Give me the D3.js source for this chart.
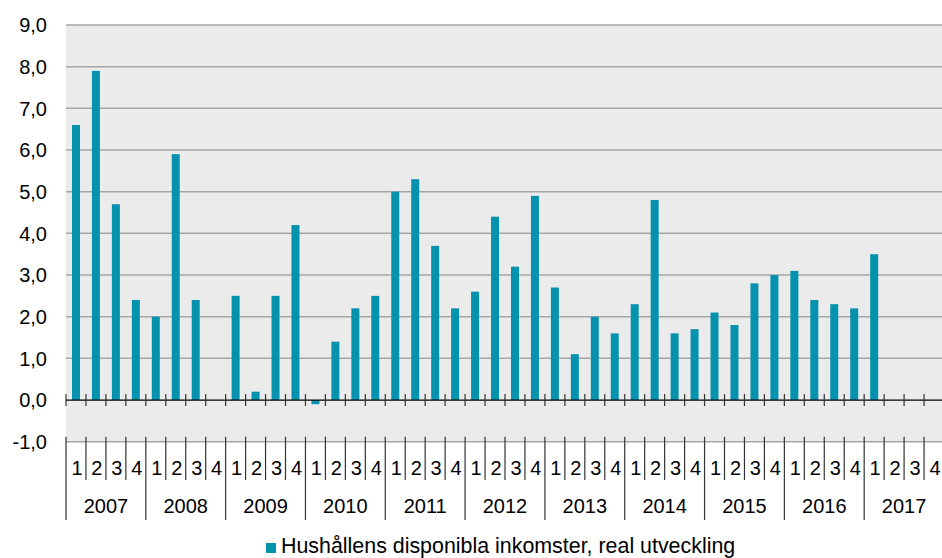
<!DOCTYPE html>
<html>
<head>
<meta charset="utf-8">
<script src="https://cdn.jsdelivr.net/npm/d3@7"></script>
<style>
  body { margin: 0; background: #fff; }
  svg { display: block; font-family: Arial, "Liberation Sans", sans-serif; }
</style>
</head>
<body>
<svg id="chart" width="942" height="558"></svg>
<script>
// Quarterly data, 2007Q1 - 2017Q4
var years = ["2007", "2008", "2009", "2010", "2011", "2012", "2013", "2014", "2015", "2016", "2017"];
var quarters = ["1", "2", "3", "4"];
var values = [
  6.6, 7.9, 4.7, 2.4,
  2.0, 5.9, 2.4, 0.0,
  2.5, 0.2, 2.5, 4.2,
  -0.1, 1.4, 2.2, 2.5,
  5.0, 5.3, 3.7, 2.2,
  2.6, 4.4, 3.2, 4.9,
  2.7, 1.1, 2.0, 1.6,
  2.3, 4.8, 1.6, 1.7,
  2.1, 1.8, 2.8, 3.0,
  3.1, 2.4, 2.3, 2.2,
  3.5, null, null, null
];
var yTicks = [-1, 0, 1, 2, 3, 4, 5, 6, 7, 8, 9];
var seriesName = "Hushållens disponibla inkomster, real utveckling";

var svg = d3.select("#chart");

// Plot area (note: "top" is reserved on window, so use plot* names)
var plotLeft = 66, plotRight = 944, plotTop = 25, plotBottom = 441.7;

// Build category keys
var cats = [];
years.forEach(function(yr) {
  quarters.forEach(function(q) { cats.push(yr + "-" + q); });
});
var data = cats.map(function(c, i) { return { key: c, q: c.split("-")[1], value: values[i] }; });

var x = d3.scaleBand().domain(cats).range([plotLeft, plotRight]).paddingInner(0).paddingOuter(0);
var xYear = d3.scaleBand().domain(years).range([plotLeft, plotRight]);
var y = d3.scaleLinear().domain([-1, 9]).range([plotBottom, plotTop]);

// Background
svg.append("rect")
  .attr("x", plotLeft).attr("y", plotTop)
  .attr("width", plotRight - plotLeft).attr("height", plotBottom - plotTop)
  .attr("fill", "#ebebeb");

// Gridlines
svg.append("g")
  .selectAll("line")
  .data(yTicks.filter(function(d) { return d !== 0; }))
  .enter()
  .append("line")
  .attr("x1", plotLeft).attr("x2", plotRight)
  .attr("y1", function(d) { return y(d); })
  .attr("y2", function(d) { return y(d); })
  .attr("stroke", "#a6a6a6")
  .attr("stroke-width", 1.5);

// Y axis labels
svg.append("g")
  .selectAll("text")
  .data(yTicks)
  .enter()
  .append("text")
  .attr("x", 47)
  .attr("y", function(d) { return y(d); })
  .attr("dy", "0.36em")
  .attr("text-anchor", "end")
  .attr("font-size", "20px")
  .attr("fill", "#000")
  .text(function(d) { return d3.format(".1f")(d).replace(".", ",").replace("−", "-"); });

// Bars
var barW = 8;
svg.append("g")
  .selectAll("rect")
  .data(data.filter(function(d) { return d.value !== null && d.value !== 0; }))
  .enter()
  .append("rect")
  .attr("x", function(d) { return x(d.key) + x.bandwidth() / 2 - barW / 2; })
  .attr("y", function(d) { return y(Math.max(0, d.value)); })
  .attr("width", barW)
  .attr("height", function(d) { return Math.abs(y(d.value) - y(0)); })
  .attr("fill", "#0492ae");

// Zero axis line with ticks
svg.append("line")
  .attr("x1", plotLeft).attr("x2", plotRight)
  .attr("y1", y(0)).attr("y2", y(0))
  .attr("stroke", "#000").attr("stroke-width", 1.3);

svg.append("g")
  .selectAll("line")
  .data(cats)
  .enter()
  .append("line")
  .attr("x1", function(d) { return x(d); })
  .attr("x2", function(d) { return x(d); })
  .attr("y1", y(0) - 6).attr("y2", y(0) + 6)
  .attr("stroke", "#333").attr("stroke-width", 1.2);

// Category separators under the plot
var sepTop = plotBottom - 5;
svg.append("g")
  .selectAll("line")
  .data(cats)
  .enter()
  .append("line")
  .attr("x1", function(d) { return x(d); })
  .attr("x2", function(d) { return x(d); })
  .attr("y1", sepTop)
  .attr("y2", function(d) { return d.split("-")[1] === "1" ? 520 : 480; })
  .attr("stroke", "#333").attr("stroke-width", 1.2);

// Quarter labels
svg.append("g")
  .selectAll("text")
  .data(data)
  .enter()
  .append("text")
  .attr("x", function(d) { return x(d.key) + x.bandwidth() / 2 + 1; })
  .attr("y", 468)
  .attr("dy", "0.36em")
  .attr("text-anchor", "middle")
  .attr("font-size", "20px")
  .text(function(d) { return d.q; });

// Year labels
svg.append("g")
  .selectAll("text")
  .data(years)
  .enter()
  .append("text")
  .attr("x", function(d) { return xYear(d) + xYear.bandwidth() / 2; })
  .attr("y", 506)
  .attr("dy", "0.36em")
  .attr("text-anchor", "middle")
  .attr("font-size", "20px")
  .text(function(d) { return d; });

// Legend
var legend = svg.append("g");
legend.append("rect")
  .attr("x", 266).attr("y", 543)
  .attr("width", 10).attr("height", 10)
  .attr("fill", "#0492ae");
legend.append("text")
  .attr("x", 281).attr("y", 553)
  .attr("font-size", "21.4px")
  .text(seriesName);
</script>
</body>
</html>
